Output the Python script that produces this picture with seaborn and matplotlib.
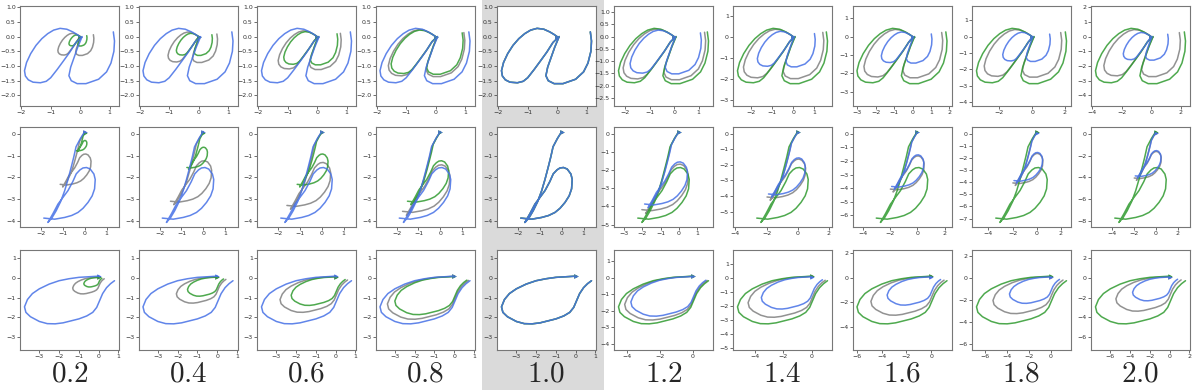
import numpy as np
import matplotlib.pyplot as plt
import seaborn as sns
from matplotlib.patches import Rectangle
from matplotlib.ticker import MaxNLocator

# ======================= данные ======================= #

scales = [0.2, 0.4, 0.6, 0.8, 1.0, 1.2, 1.4, 1.6, 1.8, 2.0]
labels = ['0.2', '0.4', '0.6', '0.8', '1.0', '1.2', '1.4', '1.6', '1.8', '2.0']

# буква "a" (масштаб 1.0)
a_x = [0.0, -0.1, -0.25, -0.45, -0.68, -0.9, -1.1, -1.3, -1.5, -1.68, -1.82, -1.89, -1.86,
       -1.76, -1.6, -1.35, -1.15, -1.0, -0.78, -0.56, -0.35, -0.14, 0.07, -0.08, -0.2,
       -0.32, -0.38, -0.3, -0.1, 0.2, 0.63, 0.9, 1.05, 1.15, 1.17, 1.13]
a_y = [0.0, 0.07, 0.16, 0.25, 0.28, 0.22, 0.1, -0.07, -0.3, -0.58, -0.88, -1.16, -1.34,
       -1.47, -1.55, -1.57, -1.52, -1.4, -1.12, -0.82, -0.53, -0.2, 0.0, -0.36, -0.7,
       -1.04, -1.33, -1.5, -1.6, -1.6, -1.45, -1.2, -0.9, -0.5, -0.15, 0.16]

# буква "b"
b_x = [0.0, -0.2, -0.4, -0.5, -0.62, -0.77, -0.92, -1.1, -1.31, -1.5, -1.69, -1.45,
       -1.23, -1.0, -0.77, -0.55, -0.39, -0.22, -0.08, 0.08, 0.25, 0.42, 0.48, 0.45,
       0.34, 0.15, -0.08, -0.31, -0.6, -0.92, -1.38, -1.88]
b_y = [0.1, -0.22, -0.6, -1.05, -1.53, -2.1, -2.61, -3.1, -3.53, -3.85, -4.07, -3.65,
       -3.23, -2.92, -2.61, -2.2, -1.84, -1.66, -1.57, -1.55, -1.62, -1.85, -2.1, -2.53,
       -2.85, -3.15, -3.42, -3.61, -3.75, -3.84, -3.92, -3.87]

# петля
c_x = [0.0, -0.5, -1.0, -1.5, -2.0, -2.5, -3.0, -3.35, -3.6, -3.75, -3.68, -3.45,
       -3.0, -2.6, -2.2, -1.8, -1.4, -1.0, -0.6, -0.3, -0.1, 0.05, 0.2, 0.4, 0.6, 0.8]
c_y = [0.08, 0.05, 0.02, -0.05, -0.15, -0.32, -0.56, -0.8, -1.1, -1.47, -1.75, -1.97,
       -2.21, -2.32, -2.33, -2.28, -2.18, -2.08, -1.93, -1.75, -1.5, -1.15, -0.8, -0.5,
       -0.3, -0.15]

# во сколько раз каждая кривая больше исходной буквы
green_a = scales
green_b = scales
green_c = scales
gray_a = [0.4, 0.55, 0.7, 0.85, 1.0, 1.1, 1.25, 1.4, 1.55, 1.7]
gray_b = [0.6, 0.8, 0.85, 0.92, 1.0, 1.08, 1.05, 1.05, 1.05, 1.05]
gray_c = [0.35, 0.55, 0.75, 0.9, 1.0, 1.1, 1.2, 1.3, 1.4, 1.45]
blue_a = [1.0, 1.0, 1.0, 1.0, 1.0, 0.95, 0.9, 0.9, 0.95, 1.0]
blue_b = [1.0, 1.0, 1.0, 1.0, 1.0, 1.0, 1.0, 1.0, 1.0, 1.0]
blue_c = [1.0, 1.0, 1.0, 1.0, 1.0, 1.0, 0.95, 0.95, 1.0, 1.0]

rows = [
    (a_x, a_y, gray_a, green_a, blue_a),
    (b_x, b_y, gray_b, green_b, blue_b),
    (c_x, c_y, gray_c, green_c, blue_c),
]

# ============================== рисунок ================================== #

sns.set_style('ticks')
plt.rcParams['mathtext.fontset'] = 'cm'

W, H = 1196, 390
fig = plt.figure(figsize=(W / 100, H / 100), dpi=100)
fig.patch.set_facecolor('white')
fig.add_artist(Rectangle((482 / W, 0), 122 / W, 1, transform=fig.transFigure,
                         facecolor='#dadada', edgecolor='none', zorder=0))

col_left = [20, 138.5, 257, 375.5, 497, 614, 733, 852.5, 972, 1091]
row_top = [6, 127, 250]
pw, ph = 99, 100

colors = {'gray': '#7f7f7f', 'green': '#2f9a2f', 'blue': '#4570e6'}
tick_steps = [1, 2, 2.5, 5, 10]
y_bins = [9, 9, 8]

for r, (bx, by, g_s, gr_s, bl_s) in enumerate(rows):
    bx = np.array(bx)
    by = np.array(by)
    for c in range(10):
        ax = fig.add_axes([col_left[c] / W, 1 - (row_top[r] + ph) / H, pw / W, ph / H])
        ax.set_facecolor('white')
        for name, f in [('gray', g_s[c]), ('green', gr_s[c]), ('blue', bl_s[c])]:
            sns.lineplot(x=bx * f, y=by * f, sort=False, estimator=None,
                         color=colors[name], lw=1.1, alpha=0.85, ax=ax)
            sns.scatterplot(x=[bx[0] * f], y=[by[0] * f], marker='>', s=10,
                            color=colors[name], linewidth=0, ax=ax)
        ax.set_aspect('equal', adjustable='datalim')
        ax.xaxis.set_major_locator(MaxNLocator(nbins=6, steps=tick_steps))
        ax.yaxis.set_major_locator(MaxNLocator(nbins=y_bins[r], steps=tick_steps))
        ax.tick_params(labelsize=4.5, length=2, width=0.5, pad=1, colors='#333333')
        for sp in ax.spines.values():
            sp.set_color('#777777')
            sp.set_linewidth(0.8)

for c in range(10):
    fig.text((col_left[c] + pw / 2) / W, 1 - 382 / H, '$' + labels[c] + '$',
             ha='center', va='baseline', fontsize=21)

fig.savefig('out.png', dpi=100)
